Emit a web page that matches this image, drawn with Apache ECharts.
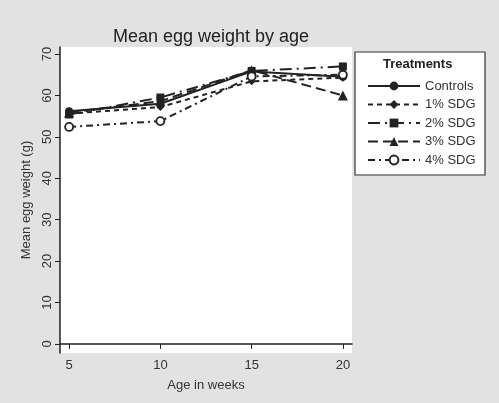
<!DOCTYPE html>
<html>
<head>
<meta charset="utf-8">
<script src="https://cdn.jsdelivr.net/npm/echarts@6/dist/echarts.min.js"></script>
<style>
  html, body { margin: 0; padding: 0; background: #e2e2e2; }
  #main { width: 499px; height: 403px; }
</style>
</head>
<body>
<div id="main"></div>
<script>
// 数据
var weeks = [5, 10, 15, 20];
var controls = [56.2, 58.0, 65.8, 64.5];
var sdg1 = [55.6, 57.2, 63.4, 64.3];
var sdg2 = [55.4, 59.5, 65.9, 67.0];
var sdg3 = [55.9, 58.6, 66.1, 60.0];
var sdg4 = [52.4, 53.8, 64.6, 65.0];
var seriesNames = ['Controls', '1% SDG', '2% SDG', '3% SDG', '4% SDG'];
var xTicks = [5, 10, 15, 20];
var yTicks = [0, 10, 20, 30, 40, 50, 60, 70];

(function() {
    var myChart = echarts.init(document.getElementById('main'));
    var ink = '#222';
    var font = 'Liberation Sans';

    function pairs(arr) {
        return arr.map(function(v, i) { return [weeks[i], v]; });
    }

    // 空心圆用白色填充加黑边
    function makeSeries(name, data, symbol, dash, hollow) {
        return {
            name: name,
            type: 'line',
            data: pairs(data),
            symbol: symbol,
            symbolSize: symbol === 'triangle' ? 10 : 8,
            color: ink,
            lineStyle: { color: ink, width: 2, type: dash },
            itemStyle: hollow ? { color: '#fff', borderColor: ink, borderWidth: 1.8 } : { color: ink },
            emphasis: { disabled: true }
        };
    }

    var option = {
        backgroundColor: '#e2e2e2',
        animation: false,
        title: {
            text: 'Mean egg weight by age',
            left: 206,
            top: 23,
            textAlign: 'center',
            textStyle: { fontFamily: font, fontSize: 18, fontWeight: 'normal', color: ink }
        },
        graphic: [{
            type: 'rect',
            shape: { x: 355, y: 52, width: 130, height: 123 },
            style: { fill: '#fff', stroke: '#333', lineWidth: 1.2 },
            z: 1
        }, {
            type: 'text',
            left: 383,
            top: 58,
            style: { text: 'Treatments', fontFamily: font, fontSize: 13, fontWeight: 'bold', fill: ink },
            z: 2
        }],
        legend: {
            orient: 'vertical',
            left: 362,
            top: 74,
            itemWidth: 52,
            itemHeight: 11,
            itemGap: 4.5,
            data: seriesNames,
            textStyle: { fontFamily: font, fontSize: 13, color: '#333', lineHeight: 14 },
            z: 5
        },
        grid: {
            left: 60,
            right: 147,
            top: 47,
            bottom: 50,
            show: true,
            backgroundColor: '#fff',
            borderWidth: 0
        },
        xAxis: {
            type: 'value',
            min: 4.5,
            max: 20.5,
            name: 'Age in weeks',
            nameLocation: 'middle',
            nameGap: 26,
            nameTextStyle: { fontFamily: font, fontSize: 13, color: '#333' },
            axisLine: { show: true, lineStyle: { color: ink, width: 1.5 } },
            axisTick: { show: true, length: 5, customValues: xTicks, lineStyle: { color: ink } },
            axisLabel: { customValues: xTicks, fontFamily: font, fontSize: 13, color: '#333', margin: 6 },
            splitLine: { show: false }
        },
        yAxis: {
            type: 'value',
            min: -2.2,
            max: 71.7,
            name: 'Mean egg weight (g)',
            nameLocation: 'middle',
            nameGap: 27,
            nameTextStyle: { fontFamily: font, fontSize: 13, color: '#333' },
            axisLine: { show: true, lineStyle: { color: ink, width: 1.5 } },
            axisTick: { show: true, length: 5, customValues: yTicks, lineStyle: { color: ink } },
            axisLabel: { customValues: yTicks, rotate: 90, fontFamily: font, fontSize: 13, color: '#333', margin: 6 },
            splitLine: { show: false }
        },
        series: [
            makeSeries('Controls', controls, 'circle', 'solid'),
            makeSeries('1% SDG', sdg1, 'diamond', [5, 4]),
            makeSeries('2% SDG', sdg2, 'rect', [12, 5, 2, 5]),
            makeSeries('3% SDG', sdg3, 'triangle', [10, 5]),
            makeSeries('4% SDG', sdg4, 'circle', [7, 4, 2, 4], true)
        ]
    };

    myChart.setOption(option);
})();
</script>
</body>
</html>
